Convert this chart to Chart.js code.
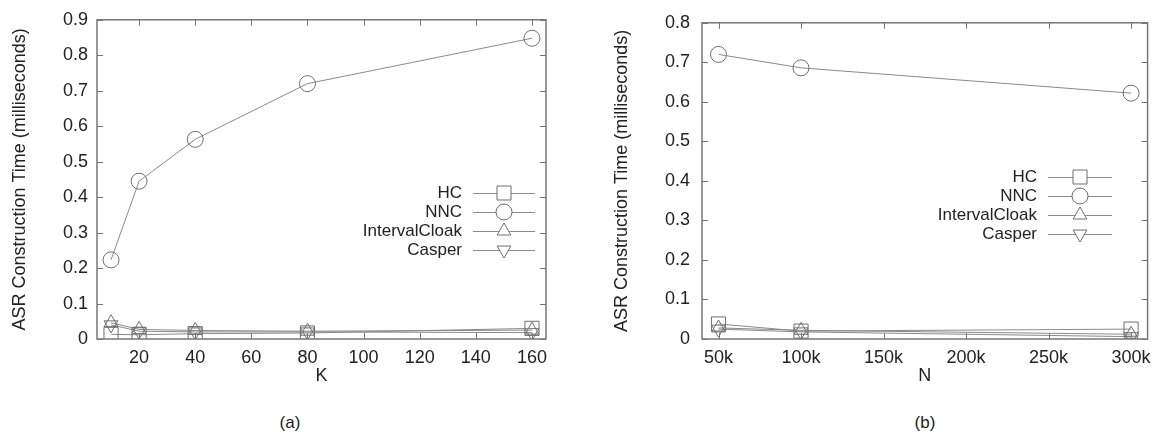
<!DOCTYPE html>
<html>
<head>
<meta charset="utf-8">
<script src="https://cdn.jsdelivr.net/npm/chart.js@4.4.0/dist/chart.umd.min.js"></script>
<style>
  body { margin: 0; background: #fff; width: 1159px; height: 445px; position: relative; overflow: hidden; }
  canvas { position: absolute; top: 0; }
  #chart-a { left: 0; }
  #chart-b { left: 590px; }
  .caption { position: absolute; top: 413px; font: 17px "Liberation Sans", Arial, sans-serif; color: #222; transform: translateX(-50%); }
</style>
</head>
<body>
<canvas id="chart-a" width="580" height="400"></canvas>
<canvas id="chart-b" width="569" height="400"></canvas>
<div class="caption" style="left:290px">(a)</div>
<div class="caption" style="left:925px">(b)</div>
<script>
// datos del gráfico (a): tiempo vs K
const kValues = [10, 20, 40, 80, 160];
const hcA = [0.013, 0.012, 0.015, 0.017, 0.03];
const nncA = [0.223, 0.445, 0.563, 0.72, 0.848];
const intervalA = [0.046, 0.027, 0.024, 0.022, 0.025];
const casperA = [0.04, 0.022, 0.02, 0.02, 0.018];
const kTicks = [20, 40, 60, 80, 100, 120, 140, 160];
const yTicksA = [0, 0.1, 0.2, 0.3, 0.4, 0.5, 0.6, 0.7, 0.8, 0.9];

// datos del gráfico (b): tiempo vs N
const nValues = [50000, 100000, 300000];
const hcB = [0.038, 0.02, 0.025];
const nncB = [0.72, 0.686, 0.622];
const intervalB = [0.028, 0.022, 0.012];
const casperB = [0.025, 0.018, 0.006];
const nTicks = [50000, 100000, 150000, 200000, 250000, 300000];
const yTicksB = [0, 0.1, 0.2, 0.3, 0.4, 0.5, 0.6, 0.7, 0.8];

const seriesNames = ["HC", "NNC", "IntervalCloak", "Casper"];

const FONT = '"Liberation Sans", Arial, sans-serif';
const LINE = "#8a8a8a";
const MARK = "#6f6f6f";

const markers = [
    { pointStyle: "rect", pointRadius: 10, pointRotation: 0 },
    { pointStyle: "circle", pointRadius: 8, pointRotation: 0 },
    { pointStyle: "triangle", pointRadius: 8, pointRotation: 0 },
    { pointStyle: "triangle", pointRadius: 8, pointRotation: 180 }
];

function makeDatasets(xs, lists) {
    return lists.map((vals, i) => ({
        label: seriesNames[i],
        data: xs.map((x, j) => ({ x: x, y: vals[j] })),
        borderColor: LINE,
        borderWidth: 1,
        pointBorderColor: MARK,
        pointBackgroundColor: "rgba(0,0,0,0)",
        pointBorderWidth: 1,
        pointStyle: markers[i].pointStyle,
        pointRadius: markers[i].pointRadius,
        pointRotation: markers[i].pointRotation,
        fill: false,
        tension: 0
    }));
}

// marco, marcas hacia dentro en los cuatro lados y leyenda estilo gnuplot
const framePlugin = {
    id: "frame",
    afterDraw(chart, args, opts) {
        const ctx = chart.ctx;
        const a = chart.chartArea;
        const xs = chart.scales.x, ys = chart.scales.y;
        ctx.save();
        ctx.strokeStyle = "#777";
        ctx.lineWidth = 1.5;
        ctx.strokeRect(a.left, a.top, a.right - a.left, a.bottom - a.top);
        ctx.lineWidth = 1;
        const len = 6;
        ctx.beginPath();
        xs.ticks.forEach(t => {
            const px = Math.round(xs.getPixelForValue(t.value)) + 0.5;
            ctx.moveTo(px, a.bottom); ctx.lineTo(px, a.bottom - len);
            ctx.moveTo(px, a.top); ctx.lineTo(px, a.top + len);
        });
        ys.ticks.forEach(t => {
            const py = Math.round(ys.getPixelForValue(t.value)) + 0.5;
            ctx.moveTo(a.left, py); ctx.lineTo(a.left + len, py);
            ctx.moveTo(a.right, py); ctx.lineTo(a.right - len, py);
        });
        ctx.stroke();

        // leyenda
        ctx.font = "17px " + FONT;
        ctx.textAlign = "right";
        ctx.textBaseline = "middle";
        chart.data.datasets.forEach((ds, i) => {
            const y = opts.top + i * opts.step;
            const x1 = opts.right - opts.lineLen;
            ctx.fillStyle = "#222";
            ctx.fillText(ds.label, x1 - 11, y);
            ctx.strokeStyle = LINE;
            ctx.beginPath();
            ctx.moveTo(x1, y + 0.5); ctx.lineTo(opts.right, y + 0.5);
            ctx.stroke();
            ctx.strokeStyle = MARK;
            const cx = x1 + opts.lineLen / 2;
            ctx.beginPath();
            if (i === 0) {
                ctx.rect(cx - 7, y - 7, 14, 14);
            } else if (i === 1) {
                ctx.arc(cx, y, 8, 0, Math.PI * 2);
            } else {
                const s = i === 2 ? 1 : -1;
                ctx.moveTo(cx, y - 8 * s);
                ctx.lineTo(cx + 6.9, y + 4 * s);
                ctx.lineTo(cx - 6.9, y + 4 * s);
                ctx.closePath();
            }
            ctx.fillStyle = "#fff";
            ctx.fill();
            ctx.stroke();
        });
        ctx.restore();
    }
};

function makeChart(id, cfg) {
    return new Chart(document.getElementById(id), {
        type: "line",
        data: { datasets: makeDatasets(cfg.xs, cfg.series) },
        options: {
            responsive: false,
            animation: false,
            devicePixelRatio: 1,
            layout: { padding: { top: 15, right: cfg.padRight, left: 0, bottom: 0 } },
            plugins: {
                legend: { display: false },
                tooltip: { enabled: false },
                frame: cfg.legend
            },
            scales: {
                x: {
                    type: "linear",
                    min: cfg.xMin,
                    max: cfg.xMax,
                    grid: { display: false, drawTicks: false },
                    border: { display: false },
                    afterBuildTicks: s => { s.ticks = cfg.xTicks.map(v => ({ value: v })); },
                    afterFit: s => { s.height = 61; },
                    ticks: {
                        padding: 8,
                        color: "#222",
                        font: { family: FONT, size: 18 },
                        maxRotation: 0,
                        callback: cfg.xFormat
                    },
                    title: {
                        display: true,
                        text: cfg.xTitle,
                        color: "#222",
                        font: { family: FONT, size: 18 },
                        padding: { top: 0, bottom: 13 }
                    }
                },
                y: {
                    min: 0,
                    max: cfg.yMax,
                    grid: { display: false, drawTicks: false },
                    border: { display: false },
                    afterBuildTicks: s => { s.ticks = cfg.yTicks.map(v => ({ value: v })); },
                    afterFit: s => { s.width = cfg.yWidth; },
                    ticks: {
                        padding: cfg.yPad,
                        color: "#222",
                        font: { family: FONT, size: 18 },
                        callback: v => String(Math.round(v * 10) / 10)
                    },
                    title: {
                        display: true,
                        text: "ASR Construction Time (milliseconds)",
                        color: "#222",
                        font: { family: FONT, size: 18 },
                        padding: { top: cfg.yTitlePad, bottom: 0 }
                    }
                }
            }
        },
        plugins: [framePlugin]
    });
}

makeChart("chart-a", {
    xs: kValues,
    series: [hcA, nncA, intervalA, casperA],
    xMin: 5, xMax: 165,
    xTicks: kTicks,
    xFormat: v => String(v),
    xTitle: "K",
    yMax: 0.9,
    yTicks: yTicksA,
    yWidth: 97, yPad: 9, yTitlePad: 9,
    padRight: 34,
    legend: { right: 535, lineLen: 62, top: 193, step: 19 }
});

makeChart("chart-b", {
    xs: nValues,
    series: [hcB, nncB, intervalB, casperB],
    xMin: 40000, xMax: 310000,
    xTicks: nTicks,
    xFormat: v => (v / 1000) + "k",
    xTitle: "N",
    yMax: 0.8,
    yTicks: yTicksB,
    yWidth: 112, yPad: 12, yTitlePad: 21,
    padRight: 11,
    legend: { right: 522, lineLen: 64, top: 177, step: 19 }
});
</script>
</body>
</html>
